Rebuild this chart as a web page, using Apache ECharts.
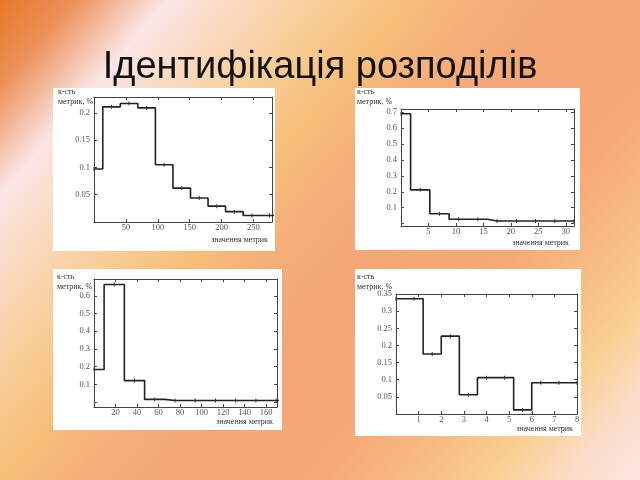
<!DOCTYPE html>
<html><head><meta charset="utf-8">
<script src="https://cdn.jsdelivr.net/npm/echarts@6/dist/echarts.min.js"></script>
<style>html,body{margin:0;padding:0;width:640px;height:480px;overflow:hidden}#c{width:640px;height:480px}</style>
</head><body><div id="c"></div>
<script>
const titleText = 'Ідентифікація розподілів';
const yAxisTitle = ['к-сть', 'метрик, %'];
const xAxisTitle = 'значення метрик';

// Panel 1 (top-left)
const centers1 = [0, 27.5, 55, 82.5, 110, 137.5, 165, 192.5, 220, 247.5, 275, 302.5];
const values1  = [0.097, 0.211, 0.217, 0.209, 0.105, 0.062, 0.044, 0.029, 0.019, 0.012, 0.012, 0.012];
const xTicks1 = [50, 100, 150, 200, 250];
const yTicks1 = [0.05, 0.1, 0.15, 0.2];

// Panel 2 (top-right)
const centers2 = [0, 3.5, 7, 10.5, 14, 17.5, 21, 24.5, 28, 31.5];
const values2  = [0.69, 0.212, 0.062, 0.027, 0.027, 0.016, 0.016, 0.016, 0.016, 0.016];
const xTicks2 = [5, 10, 15, 20, 25, 30];
const yTicks2 = [0.1, 0.2, 0.3, 0.4, 0.5, 0.6, 0.7];

// Panel 3 (bottom-left)
const centers3 = [0, 18.8, 37.6, 56.4, 75.2, 94, 112.8, 131.6, 150.4, 169.2, 188];
const values3  = [0.184, 0.664, 0.121, 0.015, 0.009, 0.009, 0.009, 0.009, 0.009, 0.009, 0.009];
const xTicks3 = [20, 40, 60, 80, 100, 120, 140, 160];
const yTicks3 = [0.1, 0.2, 0.3, 0.4, 0.5, 0.6];

// Panel 4 (bottom-right)
const centers4 = [0, 0.8, 1.6, 2.4, 3.2, 4.0, 4.8, 5.6, 6.4, 7.2, 8.0];
const values4  = [0.336, 0.336, 0.175, 0.227, 0.056, 0.106, 0.106, 0.012, 0.091, 0.091, 0.091];
const xTicks4 = [1, 2, 3, 4, 5, 6, 7, 8];
const yTicks4 = [0.05, 0.1, 0.15, 0.2, 0.25, 0.3, 0.35];

const panels = [
  {c: centers1, v: values1, xt: xTicks1, yt: yTicks1, box: [53, 88, 222, 163], grid: [94, 97, 178, 125], x: [0, 279, 50], y: [0, 0.229, 0.05], yName: [58, 92], xName: [268, 240]},
  {c: centers2, v: values2, xt: xTicks2, yt: yTicks2, box: [355, 88, 225, 162], grid: [401, 109, 173, 117], x: [0, 31.5, 5], y: [-0.015, 0.72, 0.1], yName: [357, 92], xName: [569, 243]},
  {c: centers3, v: values3, xt: xTicks3, yt: yTicks3, box: [53, 269, 229, 161], grid: [94, 279, 183, 128], x: [0, 170, 20], y: [-0.028, 0.695, 0.1], yName: [57, 277], xName: [273, 422]},
  {c: centers4, v: values4, xt: xTicks4, yt: yTicks4, box: [355, 269, 226, 167], grid: [396, 294, 181, 120], x: [0, 8, 1], y: [0, 0.35, 0.05], yName: [357, 277], xName: [573, 429]}
];

const AX = '#444';
const LBL = {fontFamily: 'Liberation Serif', fontSize: 8.5, color: '#555'};

function fmt(ticks) {
  return function (v) {
    for (const t of ticks) if (Math.abs(t - v) < 1e-7) return String(t);
    return '';
  };
}
function valueAxis(kind, i, range, ticks, position, showLabels) {
  const [min, max, step] = range;
  const o = {
    type: 'value', gridIndex: i, min: min, max: max, position: position,
    axisLine: {show: true, onZero: false, lineStyle: {color: AX, width: 1}},
    axisTick: {show: true, inside: true, length: 3, lineStyle: {color: AX, width: 1}},
    splitLine: {show: false},
    axisLabel: Object.assign({show: showLabels, margin: kind === 'x' ? 1 : 4, formatter: fmt(ticks), showMinLabel: true, showMaxLabel: true}, LBL)
  };
  const r = min / step;
  if (Math.abs(r - Math.round(r)) < 1e-9) o.interval = step;
  else { o.minInterval = step; o.maxInterval = step; o.splitNumber = 8; }
  return o;
}

const grids = [], xAxes = [], yAxes = [], series = [], graphics = [];
graphics.push({
  type: 'rect', z: -10, shape: {x: 0, y: 0, width: 640, height: 480}, silent: true,
  style: {fill: new echarts.graphic.LinearGradient(0, 0, 0.95, 1.077, [
    {offset: 0, color: '#e8782a'},
    {offset: 0.07, color: '#ec9058'},
    {offset: 0.16, color: '#fbe6e6'},
    {offset: 0.23, color: '#fad9c0'},
    {offset: 0.31, color: '#f8cd98'},
    {offset: 0.39, color: '#f7bf7a'},
    {offset: 0.47, color: '#f5ae7a'},
    {offset: 0.56, color: '#f4a676'},
    {offset: 0.70, color: '#f7aa78'},
    {offset: 0.80, color: '#f8c088'},
    {offset: 0.86, color: '#f9d094'},
    {offset: 0.93, color: '#fbdcc8'},
    {offset: 1, color: '#fce6e4'}
  ])}
});

panels.forEach((p, i) => {
  graphics.push({type: 'rect', z: -5, silent: true, shape: {x: p.box[0], y: p.box[1], width: p.box[2], height: p.box[3]}, style: {fill: '#ffffff'}});
  graphics.push({type: 'text', z: 5, silent: true, left: p.yName[0], top: p.yName[1] - 5,
    style: {text: yAxisTitle.join('\n'), font: '8px "Liberation Serif"', fill: '#333', lineHeight: 10}});
  graphics.push({type: 'text', z: 5, silent: true, x: p.xName[0], y: p.xName[1],
    style: {text: xAxisTitle, font: '8px "Liberation Serif"', fill: '#333', align: 'right', verticalAlign: 'middle'}});
  grids.push({left: p.grid[0], top: p.grid[1], width: p.grid[2], height: p.grid[3], containLabel: false});
  xAxes.push(valueAxis('x', i, p.x, p.xt, 'bottom', true));
  xAxes.push(valueAxis('x', i, p.x, p.xt, 'top', false));
  yAxes.push(valueAxis('y', i, p.y, p.yt, 'left', true));
  yAxes.push(valueAxis('y', i, p.y, p.yt, 'right', false));
  series.push({
    type: 'line', xAxisIndex: 2 * i, yAxisIndex: 2 * i,
    data: p.c.map((c, k) => [c, p.v[k]]),
    step: 'middle', symbol: 'rect', symbolSize: [1, 4], showSymbol: true,
    itemStyle: {color: '#333'}, lineStyle: {color: '#222', width: 1.6},
    clip: true, silent: true
  });
});

const chart = echarts.init(document.getElementById('c'), null, {renderer: 'canvas'});
chart.setOption({
  animation: false,
  title: {text: titleText, left: 'center', top: 44, textStyle: {fontFamily: 'Liberation Sans', fontSize: 38, fontWeight: 'normal', color: '#111'}},
  grid: grids, xAxis: xAxes, yAxis: yAxes, series: series, graphic: graphics
});
</script></body></html>
